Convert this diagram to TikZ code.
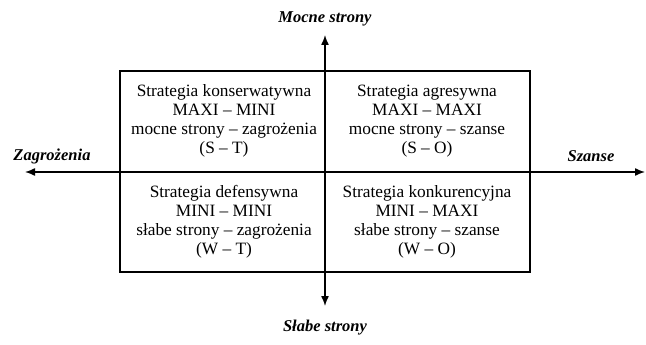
\documentclass[tikz,border=0pt]{standalone}
\usepackage{fontspec}
\setmainfont{Liberation Serif}
\usetikzlibrary{arrows.meta,positioning}

\begin{document}
\begin{tikzpicture}[x=1pt, y=-1pt, every node/.style={font=\fontsize{17.3}{19}\selectfont},
        frame/.style={draw, line width=1.4pt, minimum width=410pt, minimum height=201pt, inner sep=0pt},
        quad/.style={align=center},
        axislabel/.style={font=\fontsize{16.5}{19}\selectfont\bfseries\itshape},
        axis/.style={{Latex[length=10pt,width=8pt]}-{Latex[length=10pt,width=8pt]}, line width=1.4pt}]
        \useasboundingbox (0,0) rectangle (646,345);
        \node[frame] (box) at (325,171.5) {};
        \coordinate (west) at (25,172);
        \coordinate (east) at (645,172);
        \coordinate (north) at (325,35);
        \coordinate (south) at (325,306);
        \draw[axis] (west) -- (east);
        \draw[axis] (south) -- (north);
        % quadrants
        \node[quad] (st) at (224,121) {Strategia konserwatywna\\MAXI -- MINI\\mocne strony -- zagrożenia\\(S -- T)};
        \node[quad] (so) at (427,121) {Strategia agresywna\\MAXI -- MAXI\\mocne strony -- szanse\\(S -- O)};
        \node[quad] (wt) at (224,222) {Strategia defensywna\\MINI -- MINI\\słabe strony -- zagrożenia\\(W -- T)};
        \node[quad] (wo) at (427,222) {Strategia konkurencyjna\\MINI -- MAXI\\słabe strony -- szanse\\(W -- O)};
        % axis labels
        \node[axislabel] (strong) at (325,19) {Mocne strony};
        \node[axislabel] (weak) at (325,328) {Słabe strony};
        \node[axislabel] (threat) at (52,156) {Zagrożenia};
        \node[axislabel] (chance) at (591,156) {Szanse};
      \end{tikzpicture}
\end{document}
